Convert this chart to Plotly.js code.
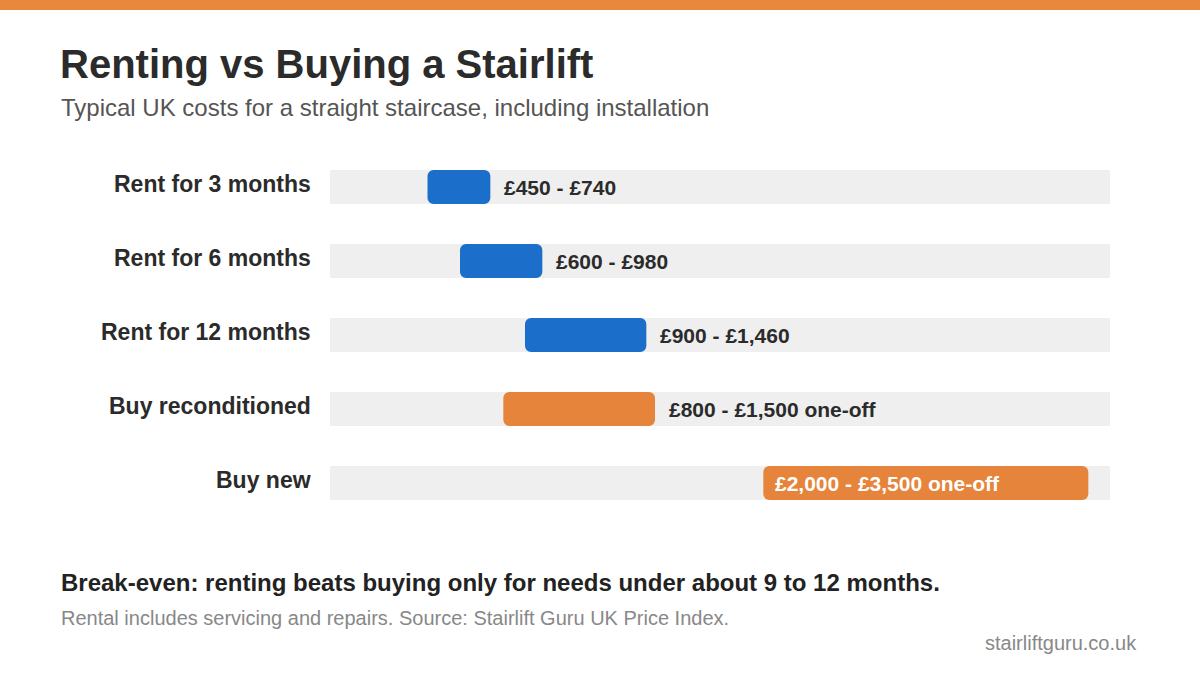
<!DOCTYPE html>
<html>
<head>
<meta charset="utf-8">
<script src="https://cdn.plot.ly/plotly-3.0.1.min.js"></script>
<style>
html,body{margin:0;padding:0;background:#fff;}
#chart{width:1200px;height:675px;}
</style>
</head>
<body>
<div id="chart"></div>
<script>
// ---- data ----
const categories = ["Rent for 3 months","Rent for 6 months","Rent for 12 months","Buy reconditioned","Buy new"];
const lowValues  = [450, 600, 900, 800, 2000];
const highValues = [740, 980, 1460, 1500, 3500];
const groups     = ["rent","rent","rent","buy","buy"];
const valueLabels = ["£450 - £740","£600 - £980","£900 - £1,460","£800 - £1,500 one-off","£2,000 - £3,500 one-off"];
const axisMax = 3600;

const titleText = "Renting vs Buying a Stairlift";
const subtitleText = "Typical UK costs for a straight staircase, including installation";
const noteText = "Break-even: renting beats buying only for needs under about 9 to 12 months.";
const sourceText = "Rental includes servicing and repairs. Source: Stairlift Guru UK Price Index.";
const brandText = "stairliftguru.co.uk";

// ---- layout geometry ----
const W = 1200, H = 675;
const M = {l:330, r:90, t:150, b:155};
const pw = W - M.l - M.r, ph = H - M.t - M.b;
const px = x => (x - M.l) / pw;
const py = y => (H - M.b - y) / ph;

const colors = {rent:"#1b6ec9", buy:"#e5843a"};
const FONT = "Liberation Sans, Arial, Helvetica, sans-serif";

const track = {
  type:"bar", orientation:"h",
  y: categories, x: categories.map(() => axisMax), base: categories.map(() => 0),
  marker:{color:"#efefef"}, width:0.46, hoverinfo:"skip", showlegend:false
};
const ranges = {
  type:"bar", orientation:"h",
  y: categories,
  x: highValues.map((h,i) => h - lowValues[i]),
  base: lowValues,
  marker:{color: groups.map(g => colors[g]), cornerradius:6},
  width:0.46, showlegend:false, hoverinfo:"skip"
};

const annotations = [];
categories.forEach((c,i) => {
  annotations.push({
    xref:"paper", yref:"y", x:px(313), y:c, xanchor:"right", yanchor:"middle", yshift:3,
    text:"<b>"+c+"</b>", showarrow:false, font:{family:FONT, size:23, color:"#2b2b2b"}
  });
  const inside = highValues[i] > 3000;
  annotations.push({
    xref:"x", yref:"y", x: inside ? lowValues[i] : highValues[i], y:c,
    xanchor:"left", yanchor:"middle", xshift: inside ? 10 : 12, yshift:0,
    text:"<b>"+valueLabels[i]+"</b>", showarrow:false,
    font:{family:FONT, size:21, color: inside ? "#ffffff" : "#2b2b2b"}
  });
});
annotations.push(
  {xref:"paper", yref:"paper", x:px(58), y:py(64), xanchor:"left", yanchor:"middle",
   text:"<b>"+titleText+"</b>", showarrow:false, font:{family:FONT, size:40, color:"#2b2b2b"}},
  {xref:"paper", yref:"paper", x:px(59), y:py(107), xanchor:"left", yanchor:"middle",
   text:subtitleText, showarrow:false, font:{family:FONT, size:24, color:"#555555"}},
  {xref:"paper", yref:"paper", x:px(59), y:py(582), xanchor:"left", yanchor:"middle",
   text:"<b>"+noteText+"</b>", showarrow:false, font:{family:FONT, size:24, color:"#222222"}},
  {xref:"paper", yref:"paper", x:px(59), y:py(618), xanchor:"left", yanchor:"middle",
   text:sourceText, showarrow:false, font:{family:FONT, size:20, color:"#888888"}},
  {xref:"paper", yref:"paper", x:px(1139), y:py(643), xanchor:"right", yanchor:"middle",
   text:brandText, showarrow:false, font:{family:FONT, size:20, color:"#888888"}}
);

const layout = {
  width:W, height:H, margin:M,
  paper_bgcolor:"#ffffff", plot_bgcolor:"#ffffff",
  barmode:"overlay",
  font:{family:FONT},
  xaxis:{range:[0, axisMax], visible:false, fixedrange:true},
  yaxis:{type:"category", categoryorder:"array", categoryarray:categories,
         autorange:"reversed", showticklabels:false, showgrid:false, zeroline:false, fixedrange:true},
  shapes:[{type:"rect", xref:"paper", yref:"paper", x0:px(0), x1:px(W), y0:py(10), y1:py(0),
           fillcolor:"#e8883a", line:{width:0}, layer:"above"}],
  annotations: annotations
};

Plotly.newPlot("chart", [track, ranges], layout, {displayModeBar:false, staticPlot:true});
</script>
</body>
</html>
